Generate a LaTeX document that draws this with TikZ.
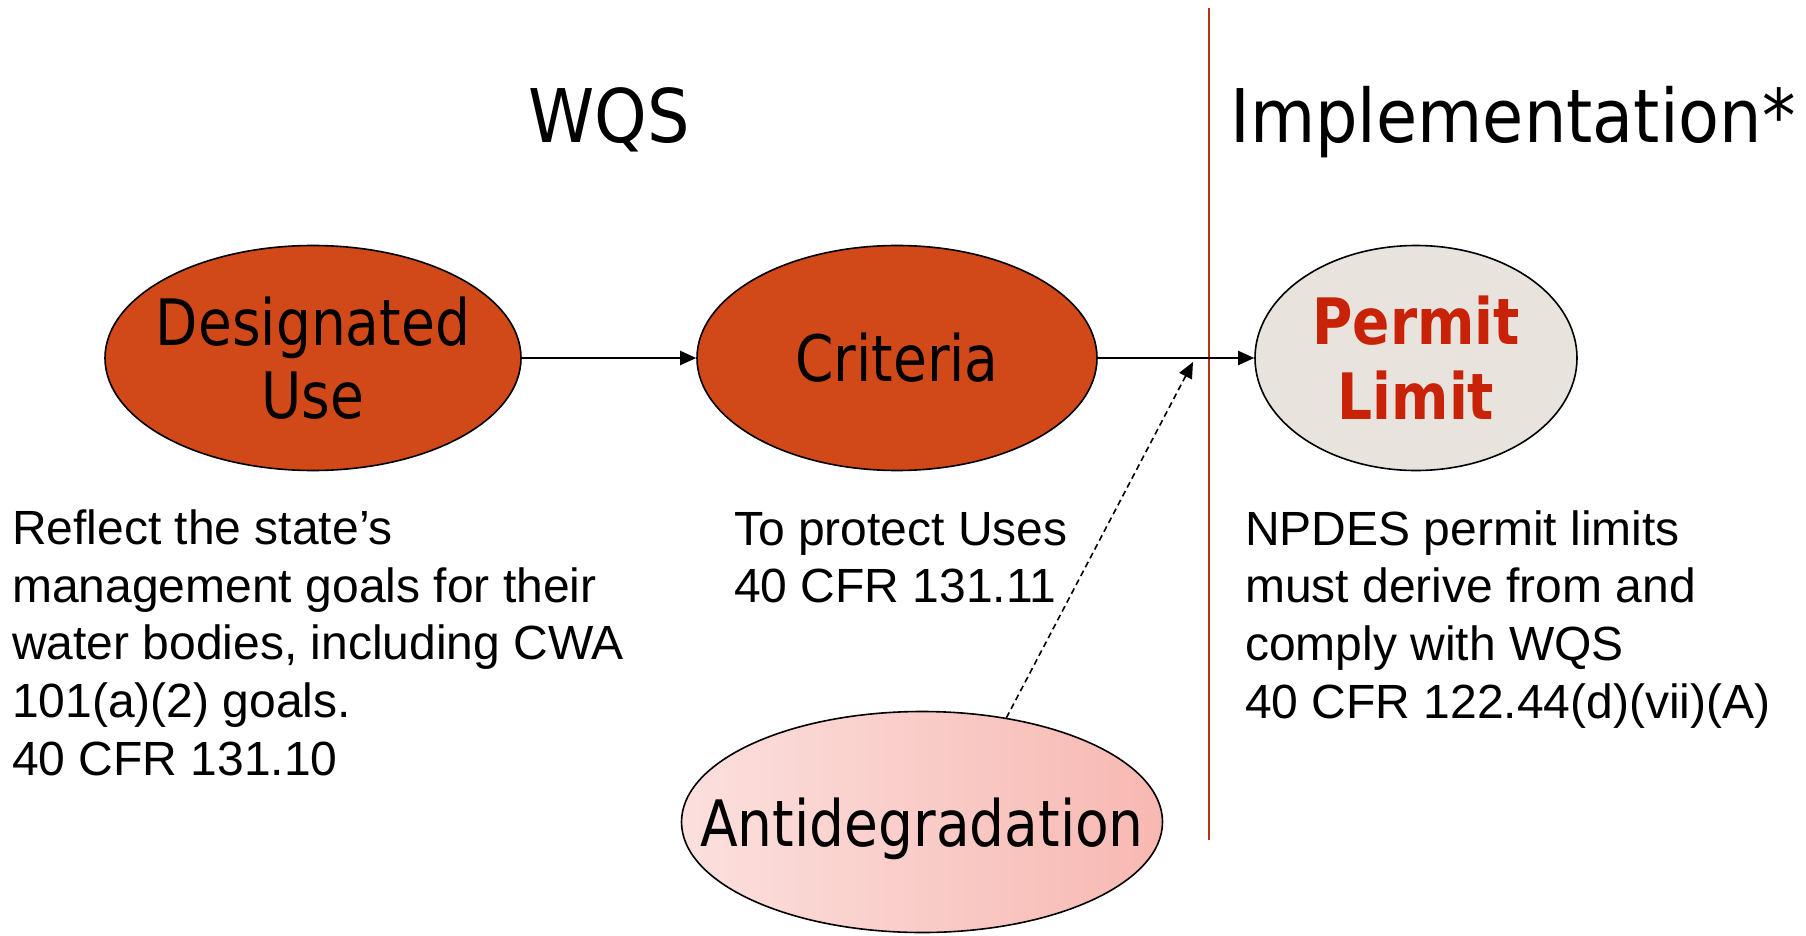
\documentclass[tikz,border=0pt]{standalone}
\usepackage{fontspec}
\usetikzlibrary{shapes.geometric,arrows.meta}
\newfontfamily\tahfont{DejaVu Sans}[FakeStretch=0.86]
\newfontfamily\titfont{DejaVu Sans}[FakeStretch=0.905]
\newfontfamily\bodyfont{Liberation Sans}
\definecolor{burnt}{RGB}{209,73,24}
\definecolor{permitfill}{RGB}{232,228,221}
\definecolor{permittext}{RGB}{200,35,8}
\definecolor{divider}{RGB}{180,54,15}
\definecolor{adleft}{RGB}{251,224,222}
\definecolor{adright}{RGB}{248,184,178}
\begin{document}
\begin{tikzpicture}[x=1pt,y=-1pt,
  ell/.style={ellipse, draw=black, line width=1.6pt, inner xsep=-90pt, inner ysep=-45pt, align=center,
    font=\tahfont\fontsize{64}{73}\selectfont},
  body/.style={anchor=base west, align=left, inner sep=0pt,
    font=\bodyfont\fontsize{48}{57.6}\selectfont},
  title/.style={anchor=base, inner sep=0pt, font=\titfont\fontsize{74}{80}\selectfont},
  conn/.style={line width=2pt, -{Triangle[length=16pt,width=14pt]}},
  dconn/.style={line width=1.6pt, dash pattern=on 6pt off 4pt, -{Triangle[length=16pt,width=14pt]}}
]
\useasboundingbox (0,0) rectangle (1806,936);
\fill[white] (0,0) rectangle (1806,936);

% divider
\draw[divider, line width=2.2pt] (1209,8) -- (1209,840);

% titles
\node[title] (wqs) at (609,143) {WQS};
\node[title] (impl) at (1513,143) {Implementation*};

% ellipses
\node[ell, fill=burnt, minimum width=416pt, minimum height=225pt] (du) at (313,358) {Designated\\Use};
\node[ell, fill=burnt, minimum width=400pt, minimum height=225pt] (cr) at (897,358) {Criteria};
\node[ell, fill=permitfill, minimum width=322pt, minimum height=225pt, text=permittext,
  font=\tahfont\bfseries\fontsize{64}{75}\selectfont] (pl) at (1416,358) {Permit\\Limit};
\node[ell, left color=adleft, right color=adright, minimum width=481pt, minimum height=221pt,
  text depth=0pt] (ad) at (922,822) {Antidegradation};

% connectors
\coordinate (tip) at (1193,362);
\draw[conn] (du.east) -- (cr.west);
\draw[conn] (cr.east) -- (pl.west);
\draw[dconn] (ad.51) -- (tip);

% body texts (anchored at the baseline of the last line)
\node[body] (t1) at (12,775) {Reflect the state’s\\management goals for their\\water bodies, including CWA\\101(a)(2) goals.\\40 CFR 131.10};
\node[body] (t2) at (734,602.6) {To protect Uses\\40 CFR 131.11};
\node[body] (t3) at (1245,718) {NPDES permit limits\\must derive from and\\comply with WQS\\40 CFR 122.44(d)(vii)(A)};
\end{tikzpicture}
\end{document}
